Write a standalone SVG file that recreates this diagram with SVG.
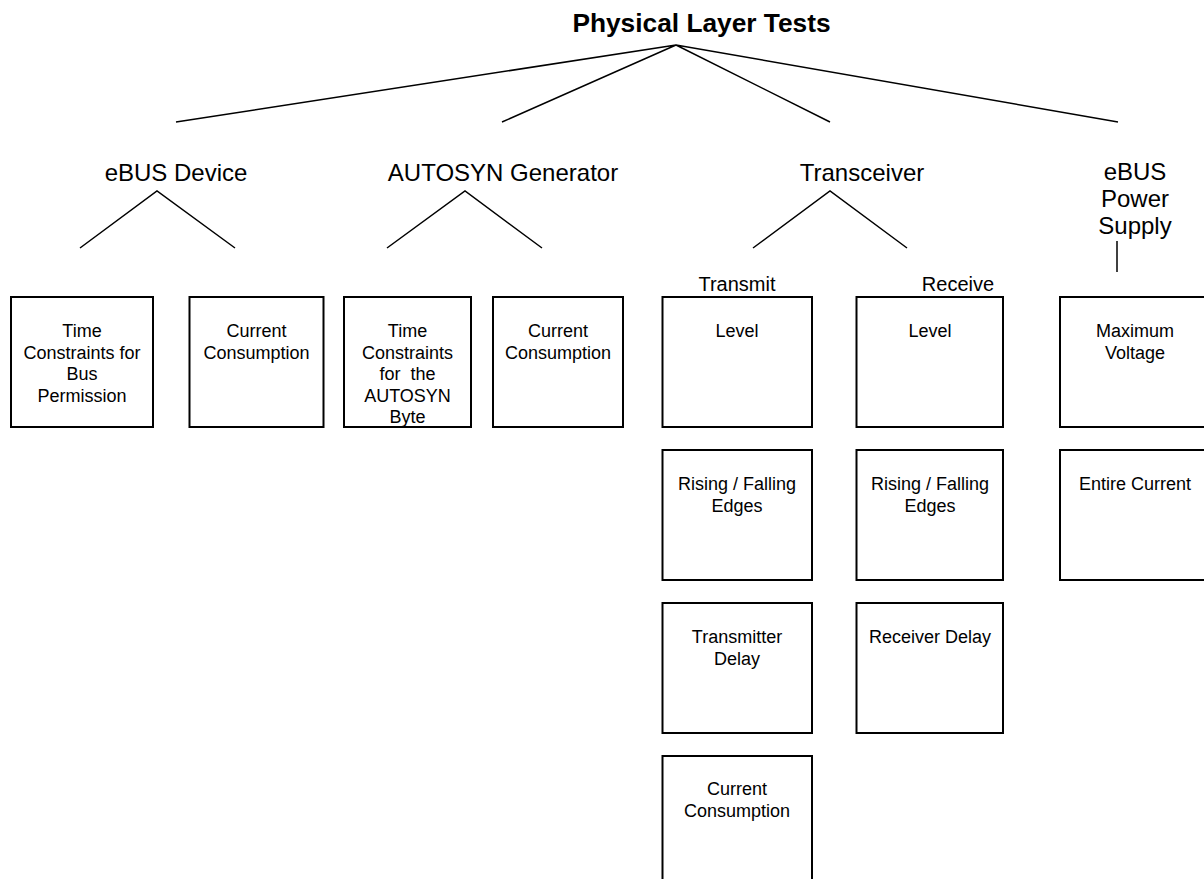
<svg xmlns="http://www.w3.org/2000/svg" width="1204" height="879" viewBox="0 0 1204 879">
<style>
text{font-family:"Liberation Sans",Arial,sans-serif;fill:#000;text-anchor:middle;white-space:pre}
.title{font-size:26.3px;font-weight:bold}
.l2{font-size:24px}
.l3{font-size:20px}
.box rect{fill:#fff;stroke:#000;stroke-width:2}
.box text{font-size:18px}
#connectors path{fill:none;stroke:#000;stroke-width:1.5}
</style>
<rect width="1204" height="879" fill="#fff"/>
<g id="connectors">
<path d="M676 45 L176 122 M676 45 L502 122 M676 45 L830 122 M676 45 L1118 122"/>
<path d="M80 248 L157 191 L235 248"/>
<path d="M387 248 L465 191 L542 248"/>
<path d="M753 248 L830 191 L907 248"/>
<path d="M1117 241 L1117 272"/>
</g>
<g id="root"><text class="title" x="701.5" y="32">Physical Layer Tests</text></g>
<g id="ebus-device"><text class="l2" x="176" y="181">eBUS Device</text></g>
<g id="autosyn-generator"><text class="l2" x="503" y="181">AUTOSYN Generator</text></g>
<g id="transceiver"><text class="l2" x="862" y="181">Transceiver</text></g>
<g id="power-supply"><text class="l2" x="1135" y="180">eBUS</text><text class="l2" x="1135" y="207">Power</text><text class="l2" x="1135" y="234">Supply</text></g>
<g id="transmit"><text class="l3" x="737" y="291">Transmit</text></g>
<g id="receive"><text class="l3" x="958" y="291">Receive</text></g>

<g id="dev-time" class="box"><rect x="11" y="297" width="142" height="130"/>
<text x="82" y="337">Time</text><text x="82" y="358.5">Constraints for</text><text x="82" y="380">Bus</text><text x="82" y="401.5">Permission</text></g>
<g id="dev-current" class="box"><rect x="189.5" y="297" width="134" height="130"/>
<text x="256.5" y="337">Current</text><text x="256.5" y="358.5">Consumption</text></g>
<g id="gen-time" class="box"><rect x="344" y="297" width="127" height="130"/>
<text x="407.5" y="337">Time</text><text x="407.5" y="358.5">Constraints</text><text x="407.5" y="380">for  the</text><text x="407.5" y="401.5">AUTOSYN</text><text x="407.5" y="423">Byte</text></g>
<g id="gen-current" class="box"><rect x="493" y="297" width="130" height="130"/>
<text x="558" y="337">Current</text><text x="558" y="358.5">Consumption</text></g>

<g id="tx-level" class="box"><rect x="662.5" y="297" width="149.5" height="130"/>
<text x="737" y="337">Level</text></g>
<g id="tx-edges" class="box"><rect x="662.5" y="450" width="149.5" height="130"/>
<text x="737" y="490">Rising / Falling</text><text x="737" y="511.5">Edges</text></g>
<g id="tx-delay" class="box"><rect x="662.5" y="603" width="149.5" height="130"/>
<text x="737" y="643">Transmitter</text><text x="737" y="664.5">Delay</text></g>
<g id="tx-current" class="box"><rect x="662.5" y="756" width="149.5" height="130"/>
<text x="737" y="795">Current</text><text x="737" y="816.5">Consumption</text></g>

<g id="rx-level" class="box"><rect x="856.5" y="297" width="146.5" height="130"/>
<text x="930" y="337">Level</text></g>
<g id="rx-edges" class="box"><rect x="856.5" y="450" width="146.5" height="130"/>
<text x="930" y="490">Rising / Falling</text><text x="930" y="511.5">Edges</text></g>
<g id="rx-delay" class="box"><rect x="856.5" y="603" width="146.5" height="130"/>
<text x="930" y="643">Receiver Delay</text></g>

<g id="ps-voltage" class="box"><rect x="1060" y="297" width="150" height="130"/>
<text x="1135" y="337">Maximum</text><text x="1135" y="358.5">Voltage</text></g>
<g id="ps-current" class="box"><rect x="1060" y="450" width="150" height="130"/>
<text x="1135" y="490">Entire Current</text></g>
</svg>
